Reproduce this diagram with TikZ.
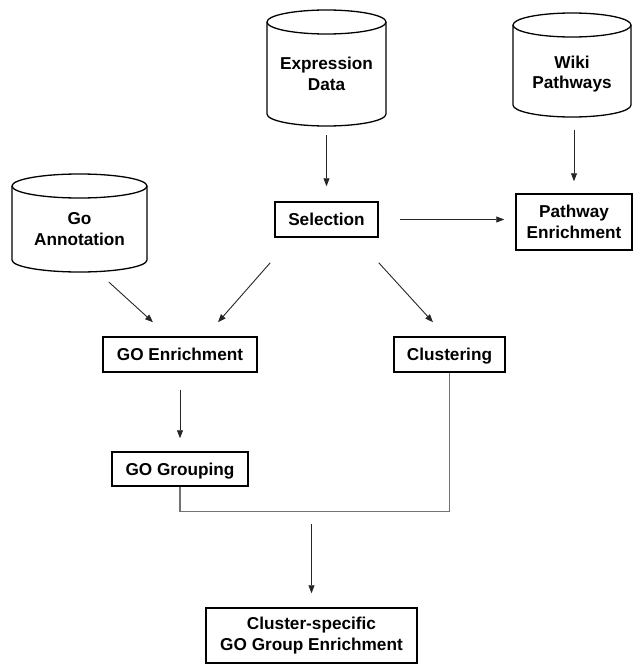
\documentclass[tikz,border=0pt]{standalone}
\usepackage{fontspec}
\setmainfont{Liberation Sans}
\usetikzlibrary{arrows.meta,calc}
\begin{document}
\begin{tikzpicture}[x=1pt,y=-1pt,
  every node/.style={font=\bfseries\fontsize{17.2}{20.5}\selectfont, align=center, inner sep=0pt},
  cylline/.style={draw=black, line width=1.3pt},
  shapebox/.style={draw=none, minimum width=#1},
  procbox/.style={draw=black, line width=1.5pt},
  oneline/.style={text height=12.3pt, text depth=0pt},
  arr/.style={draw=black!85, line width=0.9pt, -{Triangle[length=8pt,width=6pt]}},
  joinline/.style={draw=black!55, line width=1.1pt}]
\useasboundingbox (0,0) rectangle (633,664);
% cylinders (shape outlines)
\draw[cylline] (267,22) -- (267,114) arc[start angle=180,end angle=0,x radius=59.5,y radius=12] -- (386,22);
\draw[cylline] (326.5,22) ellipse[x radius=59.5,y radius=12];
\draw[cylline] (513,25) -- (513,105) arc[start angle=180,end angle=0,x radius=59,y radius=12] -- (631,25);
\draw[cylline] (572,25) ellipse[x radius=59,y radius=12];
\draw[cylline] (12,186) -- (12,260) arc[start angle=180,end angle=0,x radius=67.5,y radius=12] -- (147,186);
\draw[cylline] (79.5,186) ellipse[x radius=67.5,y radius=12];
% cylinder extents and labels
\node[shapebox=119, minimum height=116] (expr) at (326.5,68) {};
\node (exprt) at (326.5,74) {Expression\\Data};
\node[shapebox=118, minimum height=104] (wiki) at (572,65) {};
\node (wikit) at (572,74) {Wiki\\Pathways};
\node[shapebox=135, minimum height=98] (go) at (79.5,223) {};
\node (got) at (79.5,229) {Go\\Annotation};
% process boxes
\node[procbox, oneline, minimum width=103, minimum height=35] (sel) at (326.5,219.5) {Selection};
\node[procbox, minimum width=116, minimum height=56] (path) at (574,222) {Pathway\\Enrichment};
\node[procbox, oneline, minimum width=154, minimum height=35] (goe) at (180,354.5) {GO Enrichment};
\node[procbox, oneline, minimum width=111, minimum height=35] (clu) at (449.5,354.5) {Clustering};
\node[procbox, oneline, minimum width=136, minimum height=34] (gog) at (180,469) {GO Grouping};
\node[procbox, minimum width=211, minimum height=55] (fin) at (311.5,635.5) {Cluster-specific\\GO Group Enrichment};
% connectors
\draw[arr, shorten <=9pt, shorten >=15pt] (expr.south) -- (sel.north -| expr.south);
\draw[arr, shorten <=13pt, shorten >=12pt] (wiki.south -| path.north) -- (path.north);
\draw[arr, shorten <=21pt, shorten >=11pt] (sel.east) -- (sel.east -| path.west);
\draw[arr] ([shift={(29.5,10)}]go.south) -- ([shift={(-27,-14)}]goe.north);
\draw[arr] ([shift={(-4,25)}]sel.south west) -- ([shift={(38,-14)}]goe.north);
\draw[arr] ([shift={(0,25)}]sel.south east) -- ([shift={(-16.5,-14)}]clu.north);
\draw[arr, shorten <=17pt, shorten >=13pt] (goe.south) -- (gog.north);
\draw[joinline] (gog.south) -- ++(0,25) coordinate (joinl) -| (clu.south);
\coordinate (join) at (joinl -| fin.north);
\draw[arr, shorten <=12pt, shorten >=14pt] (join) -- (fin.north);
\end{tikzpicture}
\end{document}
